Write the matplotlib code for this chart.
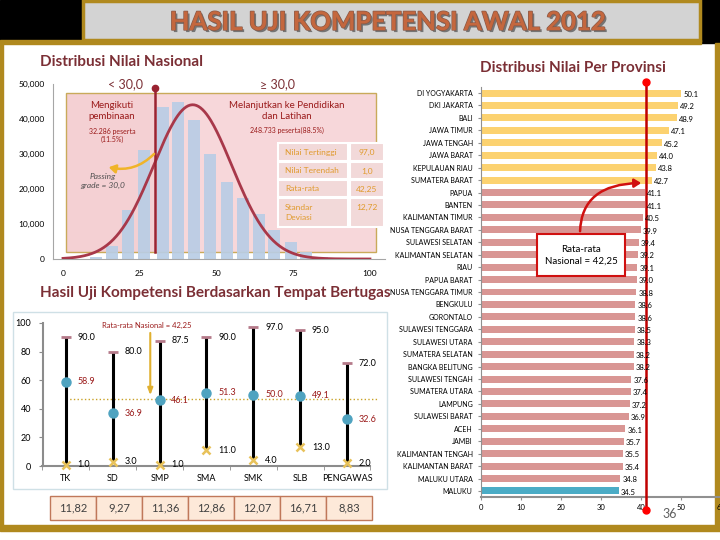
import numpy as np
import matplotlib
matplotlib.use("Agg")
import matplotlib.pyplot as plt
from matplotlib.patches import Rectangle, FancyArrowPatch
import matplotlib.patheffects as pe

plt.rcParams['font.family'] = ['Lato', 'DejaVu Sans']

# ---- data: national distribution
hist_bins = [10.7, 16.0, 21.2, 26.4, 32.6, 37.5, 42.7, 47.9, 53.4, 58.6, 63.8, 68.7, 74.3, 79.2, 84.2]
hist_counts = [700, 3600, 14100, 31200, 43500, 45000, 39700, 30000, 21900, 17400, 12900, 8400, 4800, 1900, 600]
n_below = 32286
n_above = 248733
passing_grade = 30.0
nat_mean = 42.25
nat_sd = 12.72

stats_labels = ['Nilai Tertinggi', 'Nilai Terendah', 'Rata-rata', 'Standar\nDeviasi']
stats_values = ['97,0', '1,0', '42,25', '12,72']

# ---- data: by workplace
groups = ['TK', 'SD', 'SMP', 'SMA', 'SMK', 'SLB', 'PENGAWAS']
g_max = [90.0, 80.0, 87.5, 90.0, 97.0, 95.0, 72.0]
g_mean = [58.9, 36.9, 46.1, 51.3, 50.0, 49.1, 32.6]
g_min = [1.0, 3.0, 1.0, 11.0, 4.0, 13.0, 2.0]
g_sd = ['11,82', '9,27', '11,36', '12,86', '12,07', '16,71', '8,83']
group_ref_line = 47.0   # where the source draws its dotted "national mean" line

# ---- data: by province
provinces = ['DI YOGYAKARTA', 'DKI JAKARTA', 'BALI', 'JAWA TIMUR', 'JAWA TENGAH', 'JAWA BARAT',
             'KEPULAUAN RIAU', 'SUMATERA BARAT', 'PAPUA', 'BANTEN', 'KALIMANTAN TIMUR',
             'NUSA TENGGARA BARAT', 'SULAWESI SELATAN', 'KALIMANTAN SELATAN', 'RIAU', 'PAPUA BARAT',
             'NUSA TENGGARA TIMUR', 'BENGKULU', 'GORONTALO', 'SULAWESI TENGGARA', 'SULAWESI UTARA',
             'SUMATERA SELATAN', 'BANGKA BELITUNG', 'SULAWESI TENGAH', 'SUMATERA UTARA', 'LAMPUNG',
             'SULAWESI BARAT', 'ACEH', 'JAMBI', 'KALIMANTAN TENGAH', 'KALIMANTAN BARAT',
             'MALUKU UTARA', 'MALUKU']
prov_scores = [50.1, 49.2, 48.9, 47.1, 45.2, 44.0, 43.8, 42.7, 41.1, 41.1, 40.5, 39.9, 39.4, 39.2,
               39.1, 39.0, 38.8, 38.6, 38.6, 38.5, 38.3, 38.2, 38.2, 37.6, 37.4, 37.2, 36.9, 36.1,
               35.7, 35.5, 35.4, 34.8, 34.5]
prov_ref_line = 41.3    # where the source draws its red "national mean" line

W, H = 720, 540
DARKRED = '#7b2f35'
GOLD = '#b0891e'

fig = plt.figure(figsize=(7.2, 5.4), dpi=100)


def px_axes(x0, y0, x1, y1, **kw):
    return fig.add_axes([x0 / W, 1 - y1 / H, (x1 - x0) / W, (y1 - y0) / H], **kw)


def overlay(z):
    a = fig.add_axes([0, 0, 1, 1], zorder=z)
    a.set_xlim(0, W)
    a.set_ylim(H, 0)
    a.axis('off')
    a.patch.set_alpha(0)
    return a


# ---- background frame
bg = overlay(-5)
bg.add_patch(Rectangle((0, 0), W, 43, color='black'))
bg.add_patch(Rectangle((83, 1), 617, 39, facecolor='#d3d3d3', edgecolor=GOLD, lw=2.5))
bg.add_patch(Rectangle((0, 40), 701, 4, color=GOLD))
bg.add_patch(Rectangle((0, 43), 3, 485, color=GOLD))
bg.add_patch(Rectangle((715, 43), 5, 485, color=GOLD))
bg.add_patch(Rectangle((0, 525), W, 6, color=GOLD))
bg.add_patch(Rectangle((13, 312), 374, 177, facecolor='white', edgecolor='#cfe0e6', lw=1))

# ---- national histogram
ax1 = px_axes(53, 84, 385, 259)
ax1.patch.set_alpha(0)
ax1.set_xlim(-3.26, 104.9)
ax1.set_ylim(0, 50000)
ax1.add_patch(Rectangle((1, 2000), 101, 45500, facecolor='#f7d7da', edgecolor='none', zorder=1))
ax1.add_patch(Rectangle((1, 2000), passing_grade - 1, 45500, facecolor='#f1c3c7', alpha=0.35,
                        edgecolor='none', zorder=1.2))
ax1.add_patch(Rectangle((1, 2000), 101, 45500, fill=False, edgecolor='#c9aa5a', lw=1, zorder=1.5))
ax1.bar(hist_bins, hist_counts, width=4.0, color='#b9cde5', alpha=0.92, zorder=2)
xs = np.linspace(0, 100, 300)
curve = (n_below + n_above) * 5 * np.exp(-0.5 * ((xs - nat_mean) / nat_sd) ** 2) / (nat_sd * np.sqrt(2 * np.pi))
ax1.plot(xs, curve, color='#a8384a', lw=2, zorder=4)
ax1.plot([passing_grade, passing_grade], [2000, 49000], color='#9a2331', lw=1.8, zorder=5)
ax1.plot([passing_grade], [49000], 'o', color='#9a2331', ms=4.5, zorder=5, clip_on=False)
for s in ['top', 'right']:
    ax1.spines[s].set_visible(False)
for s in ['left', 'bottom']:
    ax1.spines[s].set_color('#a6a6a6')
ax1.set_yticks(range(0, 50001, 10000))
ax1.set_yticklabels([f'{v:,}' for v in range(0, 50001, 10000)])
ax1.set_xticks([0, 25, 50, 75, 100])
ax1.tick_params(length=0, labelsize=6, pad=6)
ax1.tick_params(axis='x', pad=8)

ax1.text(20.5, 50000, '< 30,0', ha='center', va='center', fontsize=9, color=DARKRED)
ax1.text(70, 50000, '≥ 30,0', ha='center', va='center', fontsize=9, color=DARKRED)
ax1.text(16, 42200, 'Mengikuti\npembinaan', ha='center', va='center', fontsize=7, color='#9b1b1b',
         linespacing=1.3, zorder=6)
ax1.text(16, 35200, f'{n_below:,} peserta\n(11,5%)'.replace(',', '.'), ha='center', va='center',
         fontsize=5, color='#9b1b1b', zorder=6)
ax1.text(73, 42200, 'Melanjutkan ke Pendidikan\ndan Latihan', ha='center', va='center', fontsize=7,
         color='#9b1b1b', linespacing=1.3, zorder=6)
ax1.text(73, 36600, f'{n_above:,} peserta(88,5%)'.replace(',', '.'), ha='center', va='center',
         fontsize=5, color='#9b1b1b', zorder=6)
ax1.text(13, 22300, 'Passing\ngrade = 30,0', ha='center', va='center', fontsize=6, style='italic',
         color='#505050', zorder=6)
ax1.add_patch(FancyArrowPatch((30.3, 30600), (14, 26400), connectionstyle='arc3,rad=-0.3',
                              arrowstyle='-|>,head_length=4,head_width=2.5', color='#f0b429', lw=1.8,
                              zorder=6))

# ---- workplace range chart
ax2 = px_axes(42.5, 323, 370.5, 466)
ax2.patch.set_alpha(0)
ax2.set_xlim(-0.5, len(groups) - 0.5)
ax2.set_ylim(0, 100)
x = np.arange(len(groups))
ax2.plot([0, 6.64], [group_ref_line, group_ref_line], ls=':', color='#c9a227', lw=1, zorder=2, clip_on=False)
ax2.vlines(x, g_min, g_max, color='black', lw=2.2, zorder=3)
ax2.plot(x, g_max, '_', color='#b57a8a', ms=7, mew=2, zorder=4)
ax2.plot(x, g_mean, 'o', color='#4fa3c0', ms=6.5, zorder=5)
ax2.plot(x, g_min, 'x', color='#e8c25a', ms=6, mew=1.8, zorder=5, clip_on=False)
for i in range(len(groups)):
    ax2.text(i + 0.25, g_max[i], f'{g_max[i]:.1f}', va='center', fontsize=6.5, color='black')
    ax2.text(i + 0.25, g_mean[i], f'{g_mean[i]:.1f}', va='center', fontsize=6.5, color='#9b1b1b')
    ax2.text(i + 0.25, g_min[i], f'{g_min[i]:.1f}', va='center', fontsize=6.5, color='black')
ax2.annotate('', xy=(1.8, group_ref_line + 0.5), xytext=(1.8, 95),
             arrowprops=dict(arrowstyle='-|>,head_length=0.4,head_width=0.15', color='#e0b030', lw=1.5))
ax2.text(1.73, 98.6, 'Rata-rata Nasional = 42,25', ha='center', va='center', fontsize=5.5, color='#9b1b1b')
for s in ['top', 'right']:
    ax2.spines[s].set_visible(False)
for s in ['left', 'bottom']:
    ax2.spines[s].set_color('#8c8c8c')
    ax2.spines[s].set_linewidth(1.5)
ax2.set_yticks(range(0, 101, 20))
ax2.set_xticks(x)
ax2.set_xticklabels(groups)
ax2.set_xticks(np.arange(-0.5, len(groups), 1), minor=True)
ax2.tick_params(axis='y', length=3, color='#8c8c8c', labelsize=6.5, pad=5)
ax2.tick_params(axis='x', which='major', length=0, labelsize=6.5, pad=6)
ax2.tick_params(axis='x', which='minor', length=3, color='#8c8c8c')

# ---- province bars
ax3 = px_axes(481, 86.8, 721, 497.2)
ax3.patch.set_alpha(0)
ax3.set_xlim(0, 60)
ax3.set_ylim(len(provinces) - 0.5, -0.5)
colors = ['#fcd270' if v > nat_mean else '#d99694' for v in prov_scores]
colors[-1] = '#4bacc6'
ax3.barh(range(len(provinces)), prov_scores, height=0.56, color=colors, zorder=2)
for i, v in enumerate(prov_scores):
    ax3.text(v + 0.5, i + 0.1, f'{v:.1f}', va='center', fontsize=5.5, color='black', zorder=4)
ax3.plot([prov_ref_line, prov_ref_line], [-0.9, 33.5], color='#c00000', lw=1.8, zorder=3, clip_on=False)
ax3.plot([prov_ref_line, prov_ref_line], [-0.9, 33.5], 'o', color='#ff0000', ms=5, zorder=3, clip_on=False)
for s in ['top', 'right']:
    ax3.spines[s].set_visible(False)
ax3.spines['left'].set_color('#909090')
ax3.spines['bottom'].set_color('#909090')
ax3.spines['bottom'].set_linewidth(1.5)
ax3.set_yticks(range(len(provinces)))
ax3.set_yticklabels(provinces)
ax3.set_xticks(range(0, 61, 10))
ax3.tick_params(axis='y', length=2, color='#909090', labelsize=5, pad=4)
ax3.tick_params(axis='x', length=2, color='#909090', labelsize=5.5, pad=3)

# ---- foreground: titles, tables, call-outs
fg = overlay(20)
fg.text(389, 22, 'HASIL UJI KOMPETENSI AWAL 2012', ha='center', va='center', fontsize=18.5,
        fontweight='bold', color='#c4673e',
        path_effects=[pe.withSimplePatchShadow(offset=(1.5, -1.5), shadow_rgbFace='#6b6b6b', alpha=0.9),
                      pe.withStroke(linewidth=1.0, foreground='#8a5a48')])
fg.text(40, 62, 'Distribusi Nilai Nasional', ha='left', va='center', fontsize=11, fontweight='bold',
        color=DARKRED)
fg.text(480, 68, 'Distribusi Nilai Per Provinsi', ha='left', va='center', fontsize=11, fontweight='bold',
        color=DARKRED)
fg.text(40, 293, 'Hasil Uji Kompetensi Berdasarkan Tempat Bertugas', ha='left', va='center', fontsize=11,
        fontweight='bold', color=DARKRED, zorder=1)

rows = [(143, 161), (162, 179), (180, 197), (198, 227)]
for (y0, y1), lab, val in zip(rows, stats_labels, stats_values):
    fg.add_patch(Rectangle((278, y0), 70, y1 - y0, facecolor='#f2d9d9', edgecolor='white', lw=1.5))
    fg.add_patch(Rectangle((350, y0), 34, y1 - y0, facecolor='#f2d9d9', edgecolor='white', lw=1.5))
    fg.text(285, (y0 + y1) / 2, lab, ha='left', va='center', fontsize=6, color='#e09a2c', linespacing=1.5)
    fg.text(367, y0 + 9, val, ha='center', va='center', fontsize=6, color='#e09a2c')

for i, val in enumerate(g_sd):
    x0 = 50 + i * 46
    fg.add_patch(Rectangle((x0, 496), 46, 24, facecolor='#fde9d9', edgecolor='#c0785a', lw=1))
    fg.text(x0 + 23, 508, val, ha='center', va='center', fontsize=8, color='#404040')

fg.add_patch(Rectangle((537, 234), 88, 42, facecolor='white', edgecolor='#d01010', lw=1.5))
fg.text(581, 255, 'Rata-rata\nNasional = 42,25', ha='center', va='center', fontsize=7, color='black',
        linespacing=1.4)
fg.add_patch(FancyArrowPatch((580, 234), (644, 183), connectionstyle='angle3,angleA=90,angleB=0',
                             arrowstyle='-|>,head_length=4,head_width=2.5', color='#d01010', lw=1.8))
fg.text(670, 514, '36', ha='center', va='center', fontsize=9, color='#606060')

fig.savefig('out.png', dpi=100)
